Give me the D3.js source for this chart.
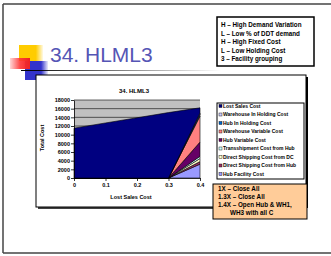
<!DOCTYPE html>
<html>
<head>
<meta charset="utf-8">
<script src="https://cdn.jsdelivr.net/npm/d3@7"></script>
<style>
  body { margin: 0; background: #fff; }
  svg { display: block; font-family: "Liberation Sans", Arial, sans-serif; }
</style>
</head>
<body>
<svg id="slide" width="331" height="256"></svg>
<script>
// x categories
const xVals = [0, 0.1, 0.2, 0.3, 0.4];
const xLabels = ["0", "0.1", "0.2", "0.3", "0.4"];
const yTicks = [0, 2000, 4000, 6000, 8000, 10000, 12000, 14000, 16000, 18000];

// series, bottom of the stack first
const seriesNames = [
  "Hub Facility Cost",
  "Direct Shipping Cost from Hub",
  "Direct Shipping Cost from DC",
  "Transshipment Cost from Hub",
  "Hub Variable Cost",
  "Warehouse Variable Cost",
  "Hub In Holding Cost",
  "Warehouse In Holding Cost",
  "Lost Sales Cost"
];
const seriesColours = ["#9999ff", "#993366", "#ffffcc", "#ccffff", "#660066",
                       "#ff8080", "#0066cc", "#ccccff", "#000080"];
const hubFacility   = [0, 0, 0, 0, 3200];
const directHub     = [0, 0, 0, 0, 600];
const directDC      = [0, 0, 0, 0, 700];
const transship     = [0, 0, 0, 0, 500];
const hubVariable   = [0, 0, 0, 0, 3300];
const whVariable    = [0, 0, 0, 0, 6000];
const hubHolding    = [0, 0, 0, 0, 400];
const whHolding     = [0, 0, 0, 0, 300];
const lostSales     = [11500, 12700, 13900, 15100, 1200];

const notesTop = [
  "H \u2013 High Demand Variation",
  "L \u2013 Low % of DDT demand",
  "H \u2013 High Fixed Cost",
  "L \u2013 Low Holding Cost",
  "3 \u2013 Facility grouping"
];
const notesBottom = [
  "1X \u2013 Close All",
  "1.3X \u2013 Close All",
  "1.4X \u2013 Open Hub & WH1,",
  "WH3 with all C"
];

const svg = d3.select("#slide");

// slide frame
svg.append("line").attr("x1", 3).attr("x2", 331).attr("y1", 4).attr("y2", 4)
    .attr("stroke", "#444").attr("stroke-width", 1.5);
svg.append("line").attr("x1", 3).attr("x2", 3).attr("y1", 4).attr("y2", 253)
    .attr("stroke", "#444").attr("stroke-width", 1.5);
svg.append("line").attr("x1", 3).attr("x2", 331).attr("y1", 253).attr("y2", 253)
    .attr("stroke", "#444").attr("stroke-width", 1.5);

// decorative squares
const defs = svg.append("defs");
function fade(id, col) {
  const g = defs.append("linearGradient").attr("id", id);
  g.append("stop").attr("offset", "0%").attr("stop-color", col);
  g.append("stop").attr("offset", "70%").attr("stop-color", col);
  g.append("stop").attr("offset", "100%").attr("stop-color", col).attr("stop-opacity", 0.1);
}
fade("gy", "#ffcc00");
fade("gb", "#3333cc");
const rg = defs.append("linearGradient").attr("id", "gr");
rg.append("stop").attr("offset", "0%").attr("stop-color", "#ff3333").attr("stop-opacity", 0.2);
rg.append("stop").attr("offset", "50%").attr("stop-color", "#ff3333").attr("stop-opacity", 0.9);
rg.append("stop").attr("offset", "100%").attr("stop-color", "#ee2222");
const lg = defs.append("linearGradient").attr("id", "gl");
lg.append("stop").attr("offset", "0%").attr("stop-color", "#000");
lg.append("stop").attr("offset", "100%").attr("stop-color", "#000").attr("stop-opacity", 0);

svg.append("rect").attr("x", 19).attr("y", 45).attr("width", 24).attr("height", 16).attr("fill", "url(#gy)");
svg.append("rect").attr("x", 25).attr("y", 61).attr("width", 23).attr("height", 19).attr("fill", "url(#gb)");
svg.append("rect").attr("x", 10).attr("y", 58).attr("width", 20).attr("height", 11)
    .attr("fill", "url(#gr)");
svg.append("rect").attr("x", 21).attr("y", 70).attr("width", 200).attr("height", 1).attr("fill", "url(#gl)");

svg.append("text").attr("x", 50).attr("y", 62)
    .attr("font-size", 21).attr("fill", "#5555b5")
    .text("34. HLML3");

// notes box top right
svg.append("rect").attr("x", 217).attr("y", 17).attr("width", 97).attr("height", 49)
    .attr("fill", "#fff").attr("stroke", "#000").attr("stroke-width", 1.5);
svg.selectAll("text.noteTop").data(notesTop).enter().append("text")
    .attr("class", "noteTop")
    .attr("x", 221).attr("y", (d, i) => 27 + i * 8.6)
    .attr("font-size", 6.3).attr("font-weight", "bold")
    .text(d => d);

// chart box
svg.append("rect").attr("x", 36).attr("y", 75).attr("width", 270).attr("height", 132)
    .attr("fill", "#fff").attr("stroke", "#000").attr("stroke-width", 1);
svg.append("line").attr("x1", 307).attr("x2", 307).attr("y1", 77).attr("y2", 208)
    .attr("stroke", "#000").attr("stroke-width", 2);
svg.append("line").attr("x1", 38).attr("x2", 307).attr("y1", 208).attr("y2", 208)
    .attr("stroke", "#000").attr("stroke-width", 1.5);

const x = d3.scaleLinear().domain([0, 0.4]).range([74, 200]);
const y = d3.scaleLinear().domain([0, 18000]).range([178, 100]);

svg.append("text").attr("x", 134).attr("y", 93).attr("text-anchor", "middle")
    .attr("font-size", 6).attr("font-weight", "bold").text("34. HLML3");

// plot background + gridlines
svg.append("rect").attr("x", 74).attr("y", 100).attr("width", 126).attr("height", 78)
    .attr("fill", "#c0c0c0");
svg.append("g").selectAll("line").data(yTicks.slice(1)).enter().append("line")
    .attr("x1", 74).attr("x2", 200)
    .attr("y1", d => y(d)).attr("y2", d => y(d))
    .attr("stroke", "#000").attr("stroke-width", 0.6);

// stacked areas
const columns = [hubFacility, directHub, directDC, transship, hubVariable,
                 whVariable, hubHolding, whHolding, lostSales];
const rows = xVals.map((v, i) => {
  const r = { x: v };
  seriesNames.forEach((n, k) => { r[n] = columns[k][i]; });
  return r;
});
const stacked = d3.stack().keys(seriesNames)(rows);
const area = d3.area()
    .x(d => x(d.data.x))
    .y0(d => y(d[0]))
    .y1(d => y(d[1]));
svg.append("g").selectAll("path").data(stacked).enter().append("path")
    .attr("d", area)
    .attr("fill", (d, i) => seriesColours[i])
    .attr("stroke", "#000").attr("stroke-width", 0.6);

// axes
const yAxis = d3.axisLeft(y).tickValues(yTicks).tickSize(3).tickSizeOuter(0)
    .tickFormat(d3.format("d"));
const gy = svg.append("g").attr("transform", "translate(74,0)").call(yAxis);
const xAxis = d3.axisBottom(x).tickValues(xVals).tickSize(3).tickSizeOuter(0)
    .tickFormat((d, i) => xLabels[i]);
const gx = svg.append("g").attr("transform", "translate(0,178)").call(xAxis);
[gy, gx].forEach(g => {
  g.selectAll("text").attr("font-size", 5.5).attr("font-weight", "bold")
      .attr("font-family", "Liberation Sans, Arial, sans-serif").attr("fill", "#000");
  g.select(".domain").attr("stroke", "#000").attr("stroke-width", 0.8);
  g.selectAll(".tick line").attr("stroke", "#000").attr("stroke-width", 0.8);
});
gy.selectAll("text").attr("x", -4);
gx.selectAll("text").attr("y", 5);

svg.append("text").attr("transform", "translate(44,138) rotate(-90)")
    .attr("text-anchor", "middle").attr("font-size", 5.5).attr("font-weight", "bold")
    .text("Total Cost");
svg.append("text").attr("x", 131).attr("y", 199).attr("text-anchor", "middle")
    .attr("font-size", 5.5).attr("font-weight", "bold")
    .text("Lost Sales Cost");

// legend (top of the stack listed first)
svg.append("rect").attr("x", 217).attr("y", 103).attr("width", 87).attr("height", 76)
    .attr("fill", "#fff").attr("stroke", "#000").attr("stroke-width", 1);
const legendItems = seriesNames.map((n, i) => ({ name: n, colour: seriesColours[i] })).reverse();
const leg = svg.append("g").selectAll("g").data(legendItems).enter().append("g")
    .attr("transform", (d, i) => "translate(219," + (106 + i * 8.5) + ")");
leg.append("rect").attr("x", 0).attr("y", -1.5).attr("width", 3).attr("height", 3)
    .attr("fill", d => d.colour).attr("stroke", "#000").attr("stroke-width", 0.4);
leg.append("text").attr("x", 4).attr("y", 1.8)
    .attr("font-size", 5).attr("font-weight", "bold")
    .text(d => d.name);

// orange note box
svg.append("rect").attr("x", 213).attr("y", 184).attr("width", 94).attr("height", 35)
    .attr("fill", "#ffcc99").attr("stroke", "#000").attr("stroke-width", 1);
svg.selectAll("text.noteBot").data(notesBottom).enter().append("text")
    .attr("class", "noteBot")
    .attr("x", (d, i) => i === 3 ? 230 : 218)
    .attr("y", (d, i) => 191 + i * 8)
    .attr("font-size", 6.3).attr("font-weight", "bold")
    .text(d => d);
</script>
</body>
</html>
